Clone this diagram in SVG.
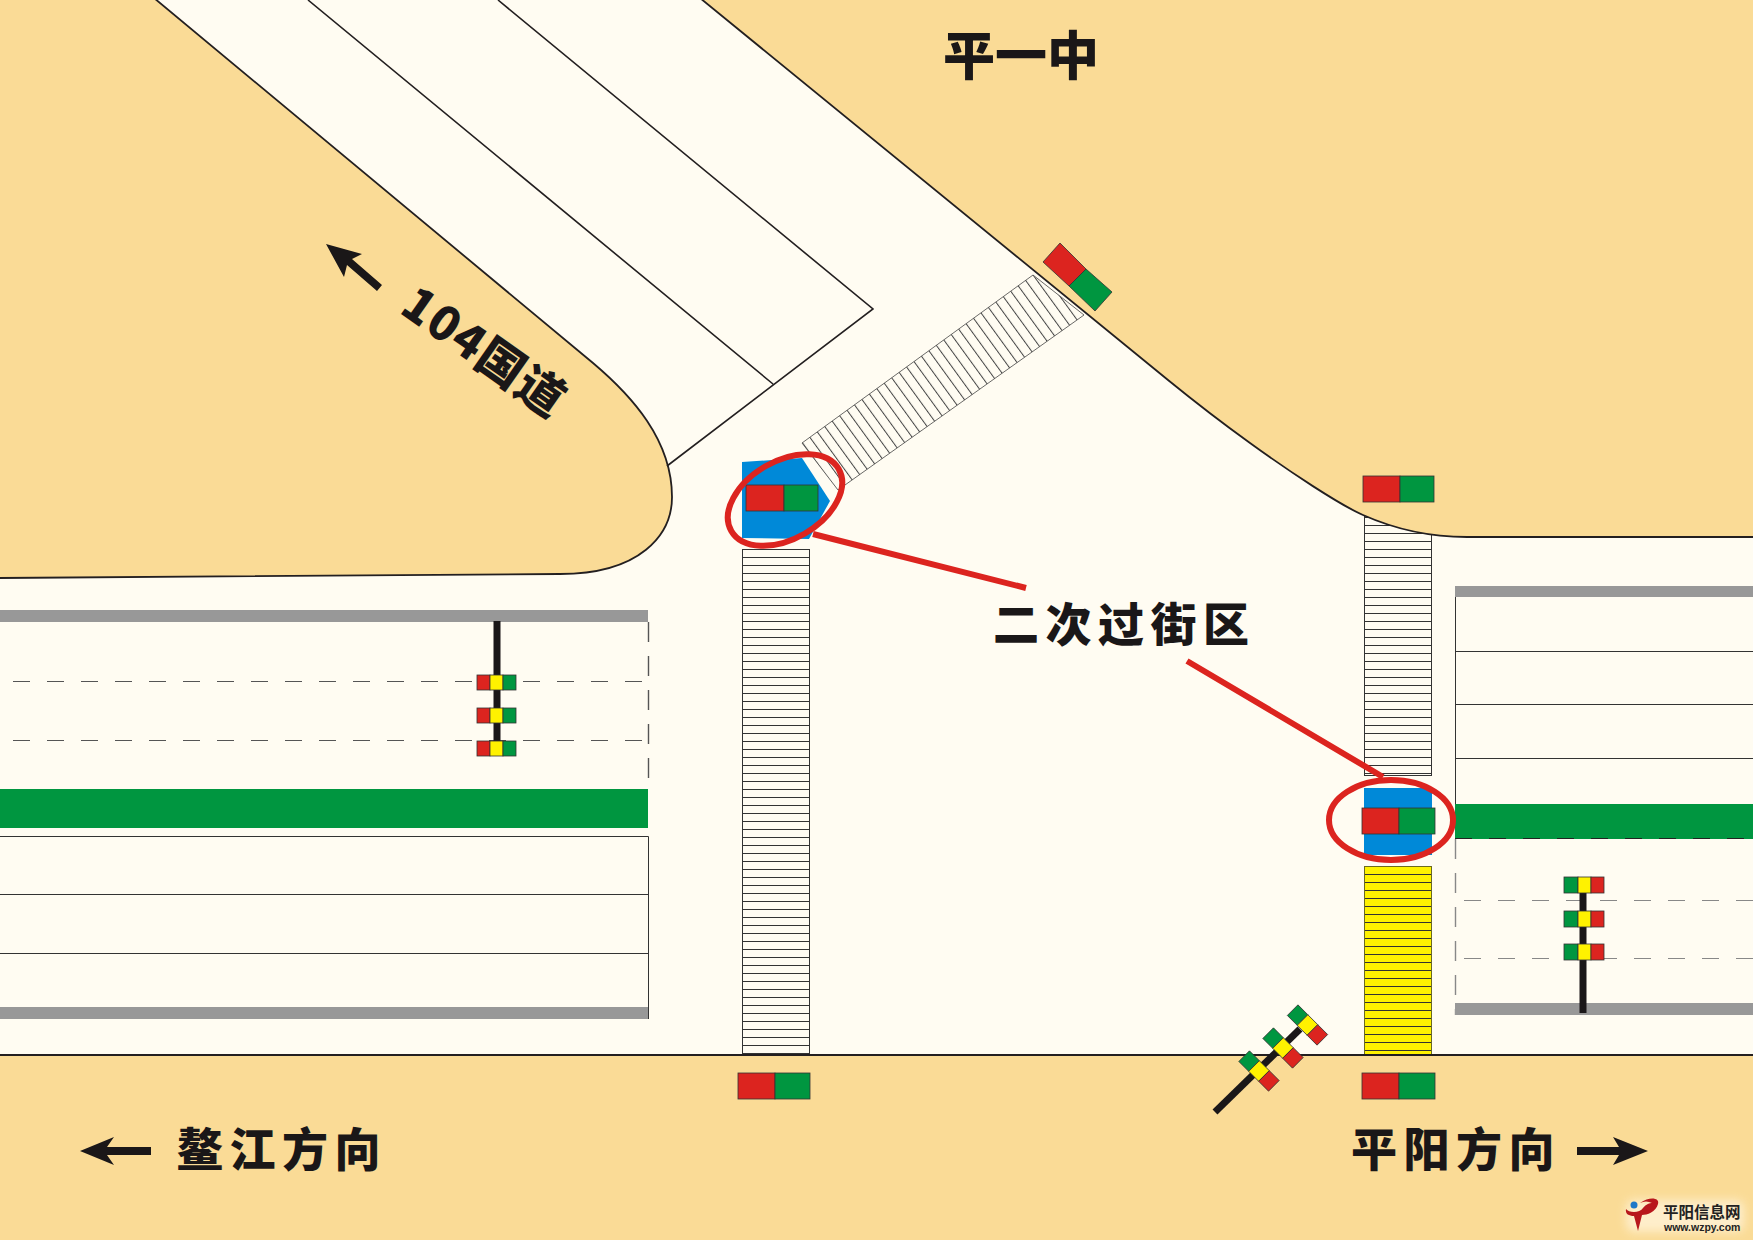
<svg xmlns="http://www.w3.org/2000/svg" width="1753" height="1240" viewBox="0 0 1753 1240">
<style>
.land{fill:#FADB96;stroke:#231F20;stroke-width:1.8}
.ln{fill:none;stroke:#231F20;stroke-width:1.6}
.thin{fill:none;stroke:#333;stroke-width:1}
.dash{fill:none;stroke:#555;stroke-width:1;stroke-dasharray:17 17}
.vdash{fill:none;stroke:#555;stroke-width:1.4;stroke-dasharray:20 14}
.gray{fill:#989898}
.green{fill:#009640}
.blue{fill:#0089D8}
.r{fill:#DC241F;stroke:#333;stroke-width:.8}
.g{fill:#009640;stroke:#333;stroke-width:.8}
.y{fill:#FFF200;stroke:#333;stroke-width:.8}
.pole{fill:none;stroke:#1A1718;stroke-width:7}
.hl{fill:none;stroke:#DC241F;stroke-width:6}
.t{font-family:"Noto Sans CJK SC","Liberation Sans",sans-serif;font-weight:900;fill:#1A1718}
.arrow{fill:#1A1718}
</style>
<defs>
<pattern id="hs" patternUnits="userSpaceOnUse" width="10" height="8" y="549"><rect width="10" height="8" fill="#FFFCF2"/><rect width="10" height="1" fill="#333"/></pattern>
<pattern id="ys" patternUnits="userSpaceOnUse" width="10" height="8" y="866"><rect width="10" height="8" fill="#FFF200"/><rect width="10" height="1" fill="#333"/></pattern>
<pattern id="ds" patternUnits="userSpaceOnUse" width="9.2" height="10" patternTransform="translate(802 443) rotate(-36)"><rect width="9.2" height="10" fill="#FFFCF2"/><rect width="1" height="10" fill="#444"/></pattern>
<filter id="soft" x="-20%" y="-40%" width="140%" height="180%"><feGaussianBlur stdDeviation="5"/></filter>
</defs>
<rect width="1753" height="1240" fill="#FFFCF2"/>
<g id="crossings">
<path class="blue" d="M742,462L802,458L830,501L809,539L742,538Z"/>
<rect class="blue" x="1364" y="788" width="68" height="67"/>
<path d="M802,443L1033,275L1084,315L845,485L838,490Z" fill="url(#ds)" stroke="#444" stroke-width=".8"/>
<rect x="742.500" y="549.500" width="67" height="504" fill="url(#hs)" stroke="#333"/>
<rect x="1364.500" y="500.500" width="67" height="275" fill="url(#hs)" stroke="#333"/>
<rect x="1364.500" y="866.500" width="67" height="188" fill="url(#ys)" stroke="#6b6b20"/>
</g>
<g id="land">
<path class="land" d="M-2,-2H154L593,363C632,396 672,440 672,497C672,535 640,574 560,574L-2,578Z"/>
<path class="land" d="M700,-2L1168,380C1195,402 1225,425 1250,443C1290,472 1340,505 1363,515C1390,527 1425,537 1467,537H1755V-2Z"/>
<path class="land" d="M-2,1055H1755V1242H-2Z"/>
</g>
<g id="road-top">
<path class="ln" d="M308,0L773,384M498,0L873,309L667,466"/>
</g>
<g id="road-left">
<rect class="gray" x="0" y="610" width="648" height="12"/>
<path class="dash" d="M13,681.500H648M13,740.500H648"/>
<path class="vdash" d="M648.500,622V789"/>
<rect class="green" x="0" y="789" width="648" height="39"/>
<path class="thin" d="M0,836.500H648.500V1019M0,894.500H648M0,953.500H648"/>
<rect class="gray" x="0" y="1007" width="648" height="12"/>
</g>
<g id="road-right">
<rect class="gray" x="1455" y="586" width="298" height="11"/>
<path class="thin" d="M1455.500,597V804M1455,651.500H1753M1455,704.500H1753M1455,758.500H1753"/>
<rect class="green" x="1455" y="804" width="298" height="35"/>
<path class="dash" d="M1455,838.500H1753" style="stroke:#222"/>
<path class="dash" style="stroke:#888" d="M1464,900.500H1753M1464,958.500H1753"/>
<path class="vdash" style="stroke:#888" d="M1455.500,839V1015"/>
<rect class="gray" x="1455" y="1003" width="298" height="12"/>
</g>
<g id="signal-ped-1"><rect class="r" x="746" y="485" width="38" height="26"/><rect class="g" x="784" y="485" width="34" height="26"/></g>
<g id="signal-ped-2"><rect class="r" x="1362" y="808" width="37" height="26"/><rect class="g" x="1399" y="808" width="36" height="26"/></g>
<g id="signal-ped-3"><rect class="r" x="1363" y="476" width="37" height="26"/><rect class="g" x="1400" y="476" width="34" height="26"/></g>
<g id="signal-ped-4"><rect class="r" x="1362" y="1073" width="37" height="26"/><rect class="g" x="1399" y="1073" width="36" height="26"/></g>
<g id="signal-ped-5"><rect class="r" x="738" y="1073" width="37" height="26"/><rect class="g" x="775" y="1073" width="35" height="26"/></g>
<g id="signal-ped-6"><path class="r" d="M1060,243L1043,262L1069,286L1086,269Z"/><path class="g" d="M1086,269L1069,286L1095,311L1112,292Z"/></g>
<g id="signal-left">
<path class="pole" d="M497,621V742"/>
<g id="sl1"><rect class="r" x="477" y="675" width="13" height="15"/><rect class="y" x="490" y="675" width="13" height="15"/><rect class="g" x="503" y="675" width="13" height="15"/></g>
<g id="sl2"><rect class="r" x="477" y="708" width="13" height="15"/><rect class="y" x="490" y="708" width="13" height="15"/><rect class="g" x="503" y="708" width="13" height="15"/></g>
<g id="sl3"><rect class="r" x="477" y="741" width="13" height="15"/><rect class="y" x="490" y="741" width="13" height="15"/><rect class="g" x="503" y="741" width="13" height="15"/></g>
</g>
<g id="signal-right">
<path class="pole" d="M1583,890V1013"/>
<g id="sr1"><rect class="g" x="1564" y="877" width="14" height="16"/><rect class="y" x="1578" y="877" width="13" height="16"/><rect class="r" x="1591" y="877" width="13" height="16"/></g>
<g id="sr2"><rect class="g" x="1564" y="911" width="14" height="16"/><rect class="y" x="1578" y="911" width="13" height="16"/><rect class="r" x="1591" y="911" width="13" height="16"/></g>
<g id="sr3"><rect class="g" x="1564" y="944" width="14" height="16"/><rect class="y" x="1578" y="944" width="13" height="16"/><rect class="r" x="1591" y="944" width="13" height="16"/></g>
</g>
<g id="signal-diagonal">
<path class="pole" d="M1215,1112L1300,1029"/>
<g transform="translate(1259 1071) rotate(45)"><rect class="g" x="-21" y="-7.500" width="14" height="15"/><rect class="y" x="-7" y="-7.500" width="14" height="15"/><rect class="r" x="7" y="-7.500" width="14" height="15"/></g>
<g transform="translate(1283 1048) rotate(45)"><rect class="g" x="-21" y="-7.500" width="14" height="15"/><rect class="y" x="-7" y="-7.500" width="14" height="15"/><rect class="r" x="7" y="-7.500" width="14" height="15"/></g>
<g transform="translate(1307.500 1025) rotate(45)"><rect class="g" x="-21" y="-7.500" width="14" height="15"/><rect class="y" x="-7" y="-7.500" width="14" height="15"/><rect class="r" x="7" y="-7.500" width="14" height="15"/></g>
</g>
<g id="callouts">
<ellipse class="hl" cx="785" cy="500" rx="62" ry="39" transform="rotate(-30 785 500)"/>
<ellipse class="hl" cx="1391" cy="820" rx="62" ry="40"/>
<path class="hl" d="M813,534L1026,588M1187,661L1383,777"/>
</g>
<g id="arrows">
<path class="arrow" d="M80,1151L114,1137L107,1147H151V1155H107L114,1165Z"/>
<path class="arrow" d="M1648,1151L1613,1137L1619,1147H1577V1155H1619L1613,1165Z"/>
<path class="arrow" d="M326,244L362,254L352,259L382,285L377,291L347,265L344,277Z"/>
</g>
<g id="labels">
<text class="t" x="943" y="75" font-size="52">平一中</text>
<text class="t" x="993" y="641" font-size="46" letter-spacing="6.500">二次过街区</text>
<text class="t" x="177" y="1166" font-size="46" letter-spacing="6.500">鳌江方向</text>
<text class="t" x="1351" y="1166" font-size="46" letter-spacing="6.500">平阳方向</text>
<text class="t" x="0" y="0" font-size="47" letter-spacing="1.500" transform="translate(398 312) rotate(35)">104国道</text>
</g>
<g id="logo">
<rect x="1626" y="1200" width="118" height="32" rx="8" fill="#FFF3D8" opacity=".8" filter="url(#soft)"/>
<circle cx="1634" cy="1205" r="3.500" fill="#1E78C8"/>
<path d="M1640,1203C1650,1196 1660,1198 1658,1204C1656,1212 1647,1215 1642,1215L1638,1231L1634,1216C1629,1216 1625,1214 1626,1209C1629,1213 1640,1213 1643,1208C1646,1204 1650,1203 1652,1203C1648,1201 1644,1201 1640,1203Z" fill="#B8171C"/>
<text x="1663" y="1218" font-size="15.500" font-family="'Noto Sans CJK SC',sans-serif" font-weight="700" fill="#222">平阳信息网</text>
<text x="1664" y="1231" font-size="10.500" font-family="'Liberation Sans',sans-serif" font-weight="700" fill="#222">www.wzpy.com</text>
</g>
</svg>
